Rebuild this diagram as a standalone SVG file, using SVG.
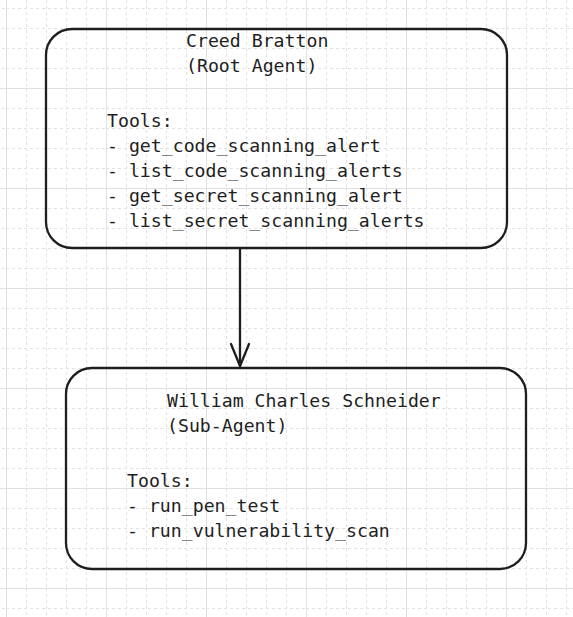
<svg xmlns="http://www.w3.org/2000/svg" width="573" height="617" viewBox="0 0 573 617">
  <style>
    .box { fill: none; stroke: #1e1e1e; stroke-width: 2.3; }
    .t { font-family: "DejaVu Sans Mono", "Liberation Mono", monospace; font-size: 18.2px; fill: #1e1e1e; }
    .minor { stroke: #e2e2e2; stroke-width: 1; stroke-dasharray: 3 3; }
    .conn { stroke: #1e1e1e; stroke-width: 2.3; fill: none; stroke-linecap: round; stroke-linejoin: round; }
  </style>
  <defs>
    <pattern id="grid" patternUnits="userSpaceOnUse" x="6" y="-12" width="100" height="100">
      <line class="minor" x1="20.5" y1="0" x2="20.5" y2="100"/>
      <line class="minor" x1="40.5" y1="0" x2="40.5" y2="100"/>
      <line class="minor" x1="60.5" y1="0" x2="60.5" y2="100"/>
      <line class="minor" x1="80.5" y1="0" x2="80.5" y2="100"/>
      <line class="minor" x1="0" y1="20.5" x2="100" y2="20.5"/>
      <line class="minor" x1="0" y1="40.5" x2="100" y2="40.5"/>
      <line class="minor" x1="0" y1="60.5" x2="100" y2="60.5"/>
      <line class="minor" x1="0" y1="80.5" x2="100" y2="80.5"/>
      <rect x="0" y="0" width="1" height="100" fill="#e0e0e0"/>
      <rect x="0" y="0" width="100" height="1" fill="#e0e0e0"/>
    </pattern>
  </defs>
  <rect x="0" y="0" width="573" height="617" fill="#ffffff"/>
  <rect x="0" y="0" width="573" height="617" fill="url(#grid)"/>

  <g id="connectors">
    <path class="conn" d="M240 249 L240 366"/>
    <path class="conn" d="M231 344 L240 366 L249 344"/>
  </g>

  <g id="root-agent">
    <rect class="box" x="46" y="29" width="461" height="219" rx="26" ry="26"/>
    <text class="t" x="186" y="47">Creed Bratton</text>
    <text class="t" x="186" y="72">(Root Agent)</text>
    <text class="t" x="107" y="127">Tools:</text>
    <text class="t" x="107" y="152">- get_code_scanning_alert</text>
    <text class="t" x="107" y="177">- list_code_scanning_alerts</text>
    <text class="t" x="107" y="202">- get_secret_scanning_alert</text>
    <text class="t" x="107" y="227">- list_secret_scanning_alerts</text>
  </g>

  <g id="sub-agent">
    <rect class="box" x="66" y="368" width="460" height="201" rx="26" ry="26"/>
    <text class="t" x="167" y="407">William Charles Schneider</text>
    <text class="t" x="167" y="432">(Sub-Agent)</text>
    <text class="t" x="127" y="487">Tools:</text>
    <text class="t" x="127" y="512">- run_pen_test</text>
    <text class="t" x="127" y="537">- run_vulnerability_scan</text>
  </g>
</svg>
